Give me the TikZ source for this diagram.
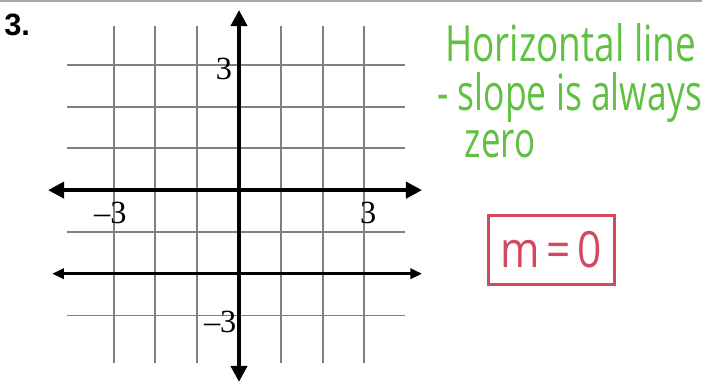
\documentclass[tikz,border=0pt]{standalone}
\usepackage{fontspec}
\setmainfont{Liberation Serif}
\newfontfamily\handfont{Open Sans}
\newfontfamily\numfont{Liberation Sans}
\usetikzlibrary{arrows.meta, positioning}
\definecolor{penGreen}{RGB}{95,192,65}
\definecolor{penRed}{RGB}{212,72,95}

\begin{document}
\begin{tikzpicture}[g/.style={draw=black!50,line width=1.3pt}, ax/.style={{Triangle[length=11pt,width=11pt]}-{Triangle[length=11pt,width=11pt]},line width=2.6pt}, lbl/.style={font=\fontsize{22}{22}\selectfont,inner sep=0pt}, hw/.style={text=penGreen,font=\handfont\fontsize{34}{34}\selectfont,anchor=base west,inner sep=0pt}]
  \useasboundingbox (-5.72,-4.62) rectangle (11.08,4.55);
  \draw[gray!70,line width=1.2pt] (-5.72,4.52)--(11.08,4.52);
  % grid
  \foreach \y in {-3,-2,-1,1,2,3}{\draw[g](-4.11,\y)--(3.97,\y);}
  \foreach \x in {-3,-2,-1,1,2,3}{\draw[g](\x,3.92)--(\x,-4.14);}
  % axes
  \coordinate (xl) at (-4.57,0); \coordinate (xr) at (4.38,0);
  \coordinate (yt) at (0,4.31); \coordinate (yb) at (0,-4.59);
  \draw[ax](xl)--(xr);
  \draw[ax](yb)--(yt);
  % the line y = -2
  \coordinate (hl) at (-4.47,-2); \coordinate (hr) at (4.38,-2);
  \draw[{Triangle[length=8pt,width=7pt]}-{Triangle[length=8pt,width=7pt]},line width=1.9pt](hl)--(hr);
  % labels
  \node[lbl](ytop) at (-0.36,2.9){3};
  \node[lbl](xneg) at (-3.08,-0.55){--3};
  \node[lbl](xpos) at (3.09,-0.55){3};
  \node[lbl](yneg) at (-0.45,-3.15){--3};
  \node[font=\numfont\bfseries\fontsize{21}{21}\selectfont,inner sep=0pt](num) at (-5.31,3.95){3.};
  % notes
  \node[hw](n1) at (4.93,3.08){\scalebox{0.74}[1]{Horizontal line}};
  \node[hw](n2) at (4.74,1.91){\scalebox{0.71}[1]{- slope is always}};
  \node[hw](n3) at (5.4,0.78){\scalebox{0.7}[1]{zero}};
  \node[draw=penRed,line width=2pt,minimum width=3.01cm,minimum height=1.65cm,text=penRed,font=\handfont\fontsize{34}{34}\selectfont](m) at (7.47,-1.43){\scalebox{0.85}[1]{m\,=\,0}};
\end{tikzpicture}
\end{document}
